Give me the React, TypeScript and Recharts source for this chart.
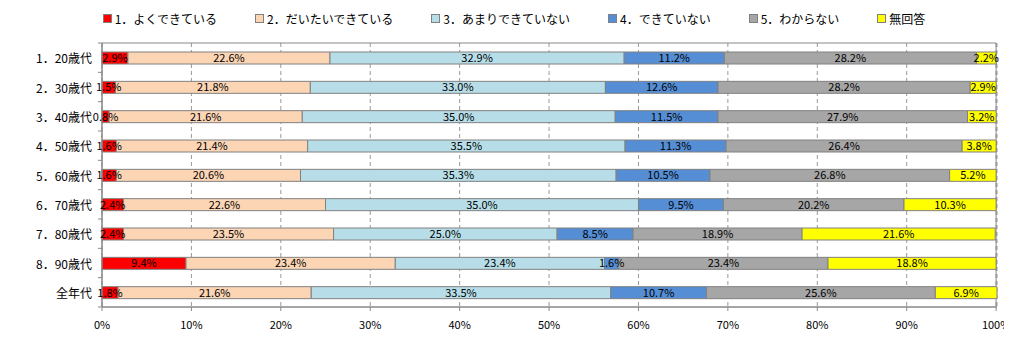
import React from "react";
import { BarChart, Bar, XAxis, YAxis, CartesianGrid, LabelList, Legend, ReferenceArea } from "recharts";

const categories = ["1．20歳代", "2．30歳代", "3．40歳代", "4．50歳代", "5．60歳代", "6．70歳代", "7．80歳代", "8．90歳代", "全年代"];
const seriesNames = ["1．よくできている", "2．だいたいできている", "3．あまりできていない", "4．できていない", "5．わからない", "無回答"];
const s1 = [2.9, 1.5, 0.8, 1.6, 1.6, 2.4, 2.4, 9.4, 1.8];
const s2 = [22.6, 21.8, 21.6, 21.4, 20.6, 22.6, 23.5, 23.4, 21.6];
const s3 = [32.9, 33.0, 35.0, 35.5, 35.3, 35.0, 25.0, 23.4, 33.5];
const s4 = [11.2, 12.6, 11.5, 11.3, 10.5, 9.5, 8.5, 1.6, 10.7];
const s5 = [28.2, 28.2, 27.9, 26.4, 26.8, 20.2, 18.9, 23.4, 25.6];
const s6 = [2.2, 2.9, 3.2, 3.8, 5.2, 10.3, 21.6, 18.8, 6.9];
const xTicks = [0, 10, 20, 30, 40, 50, 60, 70, 80, 90, 100];
const colors = ["#FF0000", "#FCD5B5", "#B7DEE8", "#558ED5", "#A6A6A6", "#FFFF00"];

const seriesValues = [s1, s2, s3, s4, s5, s6];
const keys = ["s1", "s2", "s3", "s4", "s5", "s6"];
const data = categories.map((name, i) => {
  const row: any = { name };
  keys.forEach((k, j) => (row[k] = seriesValues[j][i]));
  return row;
});

const W = 1012;
const H = 343;
const M = { top: 43, right: 15, bottom: 6, left: 0 };
const X_AXIS_H = 30;
const Y_AXIS_W = 102;
const BAND = (H - M.top - M.bottom - X_AXIS_H) / categories.length;
const FONT = "'Noto Sans CJK JP', 'Noto Sans', sans-serif";

const YTick = (props: any) => {
  const { x, y, payload, index } = props;
  const ax = Y_AXIS_W;
  return (
    <g>
      <text x={x} y={y} textAnchor="end" dominantBaseline="central" fontSize={12} fill="#000" fontFamily={FONT}>
        {payload.value}
      </text>
      <line x1={ax - 4} x2={ax} y1={y + BAND / 2} y2={y + BAND / 2} stroke="#888" />
      {index === 0 && <line x1={ax - 4} x2={ax} y1={y - BAND / 2} y2={y - BAND / 2} stroke="#888" />}
    </g>
  );
};

const LegendContent = (props: any) => {
  const { payload } = props;
  return (
    <div style={{ display: "flex", justifyContent: "center", gap: 38, paddingLeft: 16, fontFamily: FONT, fontSize: 12, color: "#000" }}>
      {(payload || []).map((p: any, i: number) => (
        <div key={i} style={{ display: "flex", alignItems: "center" }}>
          <span style={{ width: 7, height: 7, background: p.color, border: "1px solid #808080", marginRight: 3, display: "inline-block" }} />
          <span>{p.value}</span>
        </div>
      ))}
    </div>
  );
};

export default function App() {
  return (
    <div style={{ position: "relative", margin: -8, width: W, height: H, background: "#fff" }}>
      <div style={{ position: "absolute", left: 6, top: 0, width: 1, height: H, background: "#888" }} />
      <BarChart width={W} height={H} data={data} layout="vertical" margin={M} barSize={12}>
        <CartesianGrid vertical horizontal={false} stroke="#999" strokeDasharray="4 3" />
        <ReferenceArea x1={0} x2={100} fill="none" stroke="#888" strokeWidth={1} ifOverflow="visible" />
        <XAxis
          type="number"
          domain={[0, 100]}
          ticks={xTicks}
          tickFormatter={(v: number) => `${v}%`}
          height={X_AXIS_H}
          stroke="#888"
          tickSize={4}
          tickMargin={10}
          tick={{ fontSize: 11, fill: "#000", fontFamily: FONT }}
          interval={0}
        />
        <YAxis
          type="category"
          dataKey="name"
          width={Y_AXIS_W}
          stroke="#888"
          tickLine={false}
          tickSize={0}
          tickMargin={10}
          tick={<YTick />}
          interval={0}
        />
        <Legend
          layout="vertical"
          verticalAlign="middle"
          align="center"
          wrapperStyle={{ top: 10, left: 0, width: W }}
          content={<LegendContent />}
        />
        {keys.map((k, j) => (
          <Bar key={k} dataKey={k} name={seriesNames[j]} stackId="a" fill={colors[j]} stroke="#808080" strokeWidth={1} isAnimationActive={false}>
            <LabelList
              dataKey={k}
              position="center"
              formatter={(v: any) => `${Number(v).toFixed(1)}%`}
              style={{ fontSize: 11, fill: "#000", fontFamily: FONT }}
            />
          </Bar>
        ))}
      </BarChart>
    </div>
  );
}
